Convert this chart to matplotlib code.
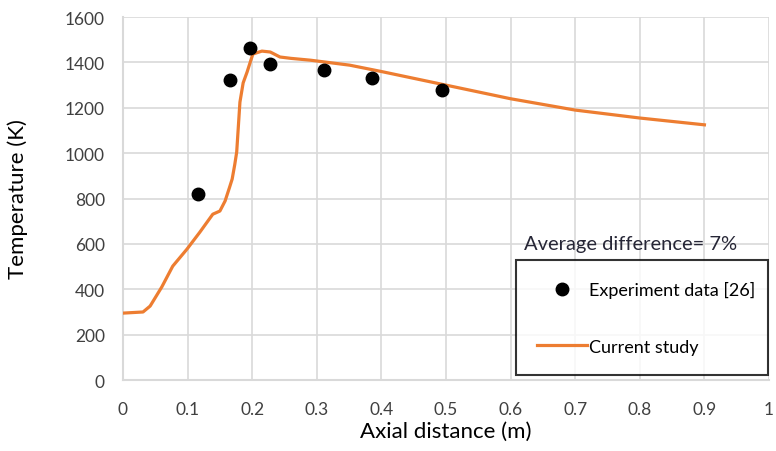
import matplotlib.pyplot as plt
from matplotlib.legend_handler import HandlerLine2D

plt.rcParams['font.family'] = ['Lato', 'DejaVu Sans']

# experiment data [26]
exp_x = [0.116, 0.166, 0.197, 0.228, 0.311, 0.385, 0.494]
exp_t = [820, 1322, 1463, 1393, 1366, 1331, 1278]

# current study
sim_x = [0.0, 0.031, 0.042, 0.06, 0.077, 0.099, 0.119, 0.139, 0.15, 0.158, 0.165,
         0.169, 0.173, 0.176, 0.181, 0.186, 0.192, 0.201, 0.215, 0.228, 0.243,
         0.26, 0.29, 0.351, 0.4, 0.5, 0.6, 0.7, 0.8, 0.9]
sim_t = [295, 300, 326, 410, 502, 577, 652, 731, 745, 789, 850,
         886, 950, 1005, 1225, 1310, 1357, 1437, 1450, 1446, 1424,
         1418, 1410, 1388, 1360, 1300, 1240, 1190, 1155, 1125]

xticks = [0, 0.1, 0.2, 0.3, 0.4, 0.5, 0.6, 0.7, 0.8, 0.9, 1]
xticklabels = ['0', '0.1', '0.2', '0.3', '0.4', '0.5', '0.6', '0.7', '0.8', '0.9', '1']
yticks = list(range(0, 1601, 200))

orange = '#ed7d31'
grid_c = '#d9d9d9'

fig = plt.figure(figsize=(7.76, 4.52), dpi=100)
ax = fig.add_axes([0.1585, 0.157, 0.8325, 0.803])

ax.plot(sim_x, sim_t, color=orange, lw=2.3, label='Current study', zorder=3)
ax.plot(exp_x, exp_t, 'o', color='black', ms=9, label='Experiment data [26]', zorder=4)

ax.set_xlim(0, 1)
ax.set_ylim(0, 1600)
ax.set_xticks(xticks)
ax.set_xticklabels(xticklabels)
ax.set_yticks(yticks)
ax.grid(True, color=grid_c, lw=1.2)
ax.set_axisbelow(True)
for s in ['top', 'right']:
    ax.spines[s].set_visible(False)
for s in ['left', 'bottom']:
    ax.spines[s].set_color(grid_c)
    ax.spines[s].set_linewidth(1.5)
ax.tick_params(length=0, labelsize=12.5, colors='#404040')
ax.tick_params(axis='x', pad=15)
ax.tick_params(axis='y', pad=13)

ax.set_xlabel('Axial distance (m)', fontsize=16)
ax.set_ylabel('Temperature (K)', fontsize=16)
ax.xaxis.set_label_coords(0.5, -0.113)
ax.yaxis.set_label_coords(-0.147, 0.5)

handles, labels = ax.get_legend_handles_labels()
leg = ax.legend(handles[::-1], labels[::-1], loc='upper left',
                bbox_to_anchor=(0.608, 0.330, 0.39, 0.0), mode='expand',
                frameon=True, fancybox=False, edgecolor='black',
                fontsize=13, handlelength=2.8, handletextpad=0.1,
                labelspacing=2.25, borderpad=1.15, borderaxespad=0,
                handler_map={handles[1]: HandlerLine2D(numpoints=1)})
leg.get_frame().set_linewidth(1.5)
ax.text(0.620, 0.352, 'Average difference= 7%', transform=ax.transAxes,
        fontsize=14.5, color='#262636', va='bottom')

fig.savefig('out.png', dpi=100)
